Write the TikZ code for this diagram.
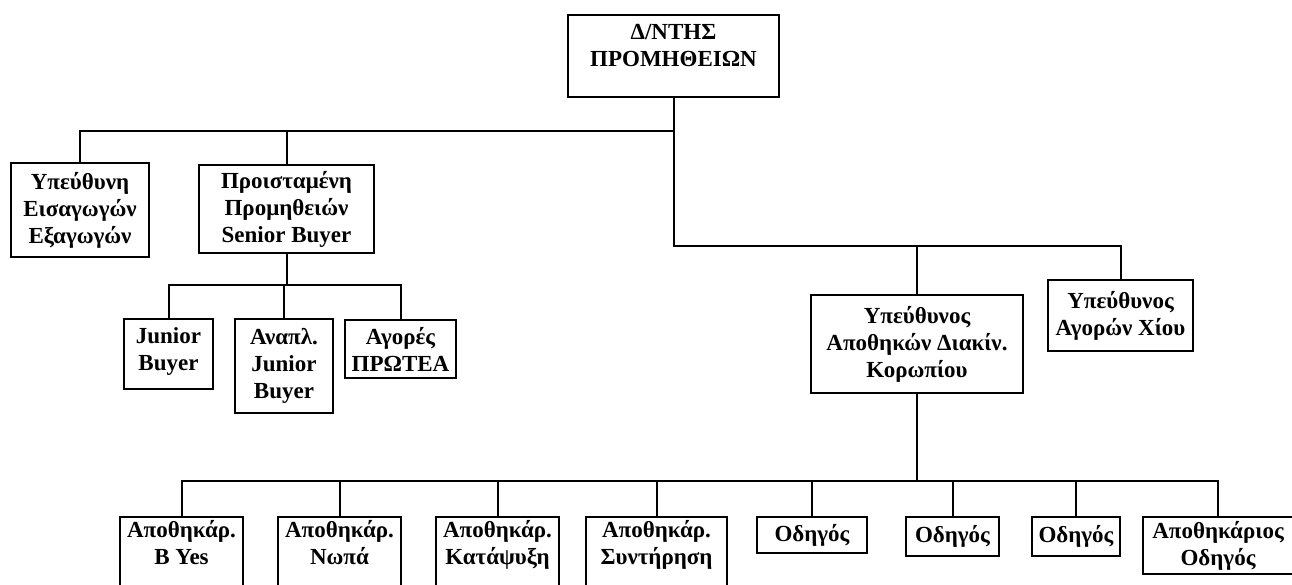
\documentclass[tikz,border=0pt]{standalone}
\usepackage{fontspec}
\setmainfont{Liberation Serif}
\tikzset{
  unit/.style={draw, line width=2pt, align=center, anchor=north, inner sep=0pt,
    font=\fontsize{23}{27}\selectfont\bfseries},
  link/.style={line width=2pt},
}
\begin{document}
\begin{tikzpicture}[x=1pt, y=-1pt]
  \useasboundingbox (0,0) rectangle (1292,584);
  \clip (0,0) rectangle (1292,584);

  % Director
  \node[unit, minimum width=211, minimum height=82, text depth=21pt] (root) at (673.5,14) {Δ/ΝΤΗΣ\\ΠΡΟΜΗΘΕΙΩΝ};

  % First level
  \node[unit, minimum width=138, minimum height=94] (imp) at (80,162) {Υπεύθυνη\\Εισαγωγών\\Εξαγωγών};
  \node[unit, minimum width=175, minimum height=88] (sen) at (286.5,164) {Προισταμένη\\Προμηθειών\\Senior Buyer};
  \node[unit, minimum width=212, minimum height=98] (whs) at (917,294) {Υπεύθυνος\\Αποθηκών Διακίν.\\Κορωπίου};
  \node[unit, minimum width=145, minimum height=71] (chios) at (1120.5,279) {Υπεύθυνος\\Αγορών Χίου};

  % Buyers level
  \node[unit, minimum width=89, minimum height=70, text depth=10pt] (jun) at (168.5,318) {Junior\\Buyer};
  \node[unit, minimum width=98, minimum height=94] (anapl) at (284,318) {Αναπλ.\\Junior\\Buyer};
  \node[unit, minimum width=111, minimum height=58] (prot) at (400.5,319) {Αγορές\\ΠΡΩΤΕΑ};

  % Warehouse level
  \node[unit, minimum width=123, minimum height=80, text depth=29pt] (byes) at (181.5,516) {Αποθηκάρ.\\B Yes};
  \node[unit, minimum width=123, minimum height=80, text depth=29pt] (nopa) at (339.5,516) {Αποθηκάρ.\\Νωπά};
  \node[unit, minimum width=123, minimum height=80, text depth=29pt] (katap) at (497.5,516) {Αποθηκάρ.\\Κατάψυξη};
  \node[unit, minimum width=141, minimum height=80, text depth=29pt] (synt) at (656.5,516) {Αποθηκάρ.\\Συντήρηση};
  \node[unit, minimum width=110, minimum height=36] (drvA) at (812,516) {Οδηγός};
  \node[unit, minimum width=93, minimum height=39] (drvB) at (952.5,516) {Οδηγός};
  \node[unit, minimum width=88, minimum height=39] (drvC) at (1076,516) {Οδηγός};
  \node[unit, minimum width=150, minimum height=57] (stdrv) at (1218,516) {Αποθηκάριος\\Οδηγός};

  % Bus lines
  \coordinate (topbus) at (0,131);
  \coordinate (midbus) at (0,246);
  \coordinate (subbus) at (0,285);
  \coordinate (lowbus) at (0,481);

  \draw[link] (imp.north) |- (root.south |- topbus);
  \draw[link] (sen.north) -- (sen.north |- topbus);
  \draw[link] (root.south) |- (chios.north |- midbus) -- (chios.north);
  \draw[link] (whs.north) -- (whs.north |- midbus);

  \draw[link] (sen.south) -- (sen.south |- subbus);
  \draw[link] (jun.north) |- (prot.north |- subbus) -- (prot.north);
  \draw[link] (anapl.north) -- (anapl.north |- subbus);

  \draw[link] (whs.south) -- (whs.south |- lowbus);
  \draw[link] (byes.north) |- (stdrv.north |- lowbus) -- (stdrv.north);
  \foreach \n in {nopa, katap, synt, drvA, drvB, drvC}
    \draw[link] (\n.north) -- (\n.north |- lowbus);
\end{tikzpicture}
\end{document}
